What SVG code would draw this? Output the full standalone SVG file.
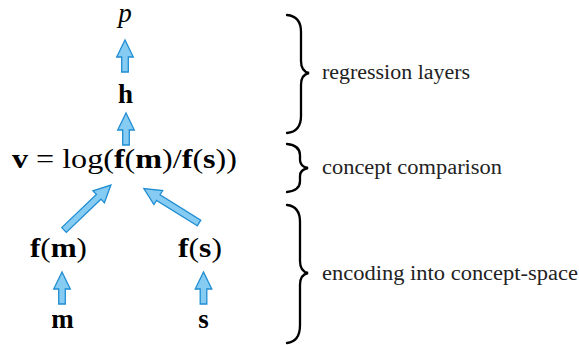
<svg xmlns="http://www.w3.org/2000/svg" width="579" height="345" viewBox="0 0 579 345">
<style>
text{font-family:'Liberation Serif','DejaVu Serif',serif}
.m{font-size:27px;fill:#000}
.b{font-weight:bold}
.lbl{font-size:20px;fill:#222}
.arr{fill:#86cbf1;stroke:#1f8dd3;stroke-width:1.3;stroke-linejoin:miter}
.brace{fill:none;stroke:#000;stroke-width:2.3;stroke-linecap:round}
</style>
<defs>
<path id="arrS" d="M -3.3 0 L -3.3 -15 L -8.3 -15 L 0 -32 L 8.3 -15 L 3.3 -15 L 3.3 0 Z"/>
<path id="arrL" d="M -3.3 0 L -3.3 -48 L -8.3 -48 L 0 -65 L 8.3 -48 L 3.3 -48 L 3.3 0 Z"/>
</defs>
<g id="connectors">
<use href="#arrS" class="arr" transform="translate(125,72)"/>
<use href="#arrS" class="arr" transform="translate(126,145)"/>
<use href="#arrS" class="arr" transform="translate(62,304)"/>
<use href="#arrS" class="arr" transform="translate(203.5,304)"/>
<use href="#arrL" class="arr" transform="translate(64,230) rotate(46.2)"/>
<use href="#arrL" class="arr" transform="translate(199,223) rotate(-58)"/>
</g>
<g id="node-p"><text class="m" font-family="Liberation Serif, serif" x="125" y="22" text-anchor="middle" font-style="italic">p</text></g>
<g id="node-h"><text class="m b" font-family="Liberation Serif, serif" x="125.5" y="103" text-anchor="middle">h</text></g>
<g id="node-v"><text class="m" font-family="Liberation Serif, serif" x="12" y="168" textLength="225" lengthAdjust="spacingAndGlyphs"><tspan class="b">v</tspan> = log(<tspan class="b">f</tspan>(<tspan class="b">m</tspan>)/<tspan class="b">f</tspan>(<tspan class="b">s</tspan>))</text></g>
<g id="node-fm"><text class="m" font-family="Liberation Serif, serif" x="30" y="257" textLength="57" lengthAdjust="spacingAndGlyphs"><tspan class="b">f</tspan>(<tspan class="b">m</tspan>)</text></g>
<g id="node-fs"><text class="m" font-family="Liberation Serif, serif" x="178" y="257" textLength="44" lengthAdjust="spacingAndGlyphs"><tspan class="b">f</tspan>(<tspan class="b">s</tspan>)</text></g>
<g id="node-m"><text class="m b" font-family="Liberation Serif, serif" x="62.5" y="328" text-anchor="middle">m</text></g>
<g id="node-s"><text class="m b" font-family="Liberation Serif, serif" x="203.5" y="328" text-anchor="middle">s</text></g>
<g id="brace-regression">
<path class="brace" d="M 287 15 C 297 16 301 22 301 32 L 301 61 C 301 68 304 72 309 73 C 304 74 301 78 301 85 L 301 116 C 301 126 297 132 287 133"/>
<text class="lbl" font-family="Liberation Serif, serif" x="322" y="79" textLength="148" lengthAdjust="spacingAndGlyphs">regression layers</text>
</g>
<g id="brace-comparison">
<path class="brace" d="M 287 144 C 296 145 300 149 300 155 L 300 160 C 300 165 303 167 308 168 C 303 169 300 171 300 176 L 300 181 C 300 187 296 191 287 192"/>
<text class="lbl" font-family="Liberation Serif, serif" x="322" y="174" textLength="180" lengthAdjust="spacingAndGlyphs">concept comparison</text>
</g>
<g id="brace-encoding">
<path class="brace" d="M 287 205 C 296 206 300 212 300 222 L 300 261 C 300 268 303 272 308 273 C 303 274 300 278 300 285 L 300 325 C 300 336 296 342 287 343"/>
<text class="lbl" font-family="Liberation Serif, serif" x="322" y="280" textLength="256" lengthAdjust="spacingAndGlyphs">encoding into concept-space</text>
</g>
</svg>
